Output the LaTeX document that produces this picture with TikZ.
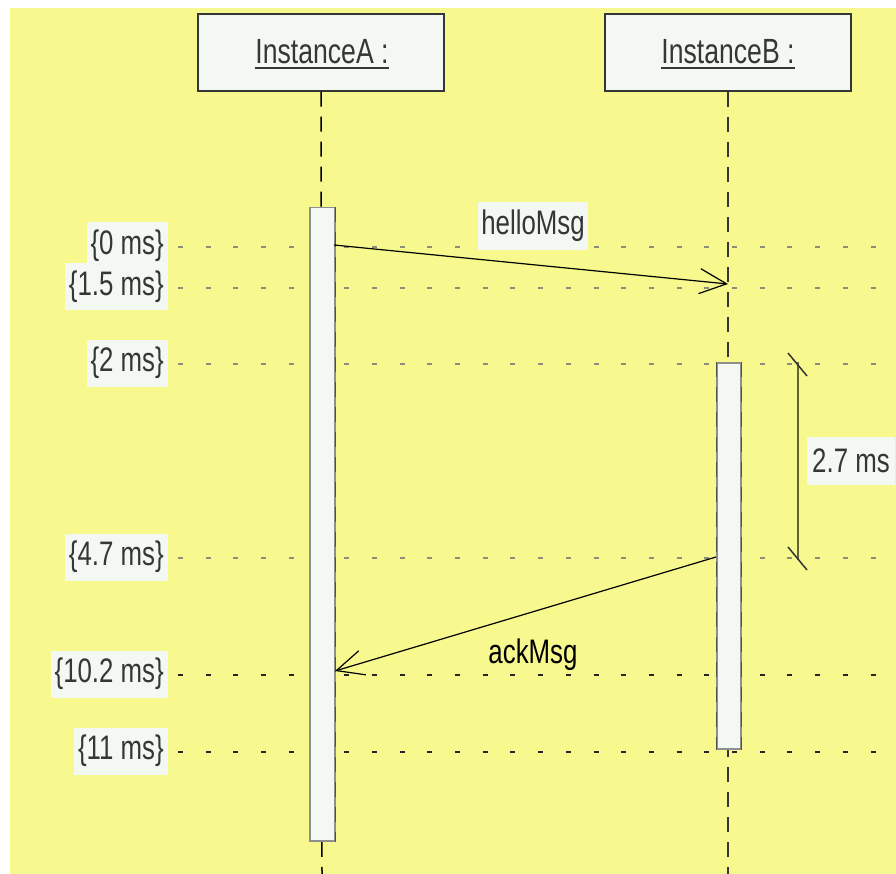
\documentclass[tikz,border=0pt]{standalone}
\usepackage{fontspec}
\setmainfont[FakeStretch=0.76]{Liberation Sans}
\usetikzlibrary{arrows.meta}
\definecolor{bgyellow}{HTML}{F7F98E}
\definecolor{boxfill}{HTML}{F3F8F3}
\definecolor{txtgray}{HTML}{363636}
\definecolor{dotgray}{HTML}{8C8C7A}
\definecolor{bargray}{HTML}{8E8E8E}
\definecolor{edgedark}{HTML}{505050}
\begin{document}
\begin{tikzpicture}[x=1pt,y=-1pt,
  headbox/.style={draw=txtgray, line width=1.5pt, fill=boxfill, minimum width=246pt, minimum height=77pt, inner sep=0pt},
  headtxt/.style={font=\fontsize{35}{40}\selectfont, text=txtgray, anchor=base, inner sep=0pt},
  lifeline/.style={line width=1.5pt, dash pattern=on 15pt off 10pt},
  actbar/.style={draw=bargray, line width=1.5pt, fill=boxfill, inner sep=0pt, anchor=north west},
  timeline/.style={line width=1.5pt, dash pattern=on 5pt off 22.7pt},
  timelabel/.style={fill=boxfill, text=txtgray, font=\fontsize{34}{38}\selectfont, anchor=east, minimum height=47pt, inner xsep=4pt, inner ysep=0pt},
  msg/.style={line width=1.2pt, -{Straight Barb[length=27pt,width=25pt,line width=1.2pt]}},
  msgtxt/.style={font=\fontsize{34}{38}\selectfont, inner sep=0pt},
  bracket/.style={line width=1.5pt, draw=black!60!bgyellow}
]
\useasboundingbox (0,0) rectangle (896,874);
\fill[white] (0,0) rectangle (896,874);
\fill[bgyellow] (10,8) rectangle (896,874);

% time grid lines
\coordinate (t0s) at (178,247);  \coordinate (t0e) at (896,247);
\coordinate (t1s) at (178,288);  \coordinate (t1e) at (896,288);
\coordinate (t2s) at (178,364);  \coordinate (t2e) at (896,364);
\coordinate (t3s) at (178,558);  \coordinate (t3e) at (896,558);
\coordinate (t4s) at (178,675);  \coordinate (t4e) at (896,675);
\coordinate (t5s) at (178,752);  \coordinate (t5e) at (896,752);
\draw[timeline, dotgray] (t0s) -- (t0e);
\draw[timeline, dotgray] (t1s) -- (t1e);
\draw[timeline, dotgray] (t2s) -- (t2e);
\draw[timeline, dotgray] (t3s) -- (t3e);
\draw[timeline, black!85] (t4s) -- (t4e);
\draw[timeline, black!85] (t5s) -- (t5e);

% heads
\node[headbox] (A) at (321,52.5) {};
\node[headbox] (B) at (728,52.5) {};
\node[headtxt] (At) at (322,64) {InstanceA :};
\node[headtxt] (Bt) at (728,64) {InstanceB :};
\draw[txtgray, line width=2pt] ([yshift=-4pt]At.base west) -- ([yshift=-4pt]At.base east);
\draw[txtgray, line width=2pt] ([yshift=-4pt]Bt.base west) -- ([yshift=-4pt]Bt.base east);

% lifelines
\coordinate (Aend) at (322,874);
\coordinate (Bend) at (728,874);
\draw[lifeline, black] (A.south) -- (Aend);
\draw[lifeline, txtgray] (B.south) -- (Bend);

% activation bars
\node[actbar, minimum width=25pt, minimum height=633pt] (barA) at (309,207) {};
\node[actbar, minimum width=24pt, minimum height=386pt] (barB) at (716,362) {};
\draw[lifeline, edgedark, line width=1pt] (barA.north east) -- (barA.south east);
\draw[lifeline, edgedark, line width=1pt] (barB.north west) -- (barB.south west);
\draw[lifeline, edgedark, line width=1pt] (barB.north east) -- (barB.south east);

% time labels
\node[timelabel] (l0) at (168,246) {\{0 ms\}};
\node[timelabel] (l1) at (168,287) {\{1.5 ms\}};
\node[timelabel] (l2) at (168,363) {\{2 ms\}};
\node[timelabel] (l3) at (168,557) {\{4.7 ms\}};
\node[timelabel] (l4) at (168,674) {\{10.2 ms\}};
\node[timelabel] (l5) at (168,751) {\{11 ms\}};

% messages
\coordinate (h1) at (334,245);
\coordinate (h2) at (728,284);
\coordinate (a1) at (716,557);
\coordinate (a2) at (335,671);
\node[msgtxt, fill=boxfill, text=txtgray, minimum width=110pt, minimum height=48pt] (hl) at (533,226) {helloMsg};
\draw[msg] (h1) -- (h2);
\draw[msg] (a1) -- (a2);
\node[msgtxt, text=black] (al) at (533,655) {ackMsg};

% duration constraint
\coordinate (b1) at (798,362);
\coordinate (b2) at (798,560);
\coordinate (k1a) at (788,353); \coordinate (k1b) at (807,376);
\coordinate (k2a) at (788,547); \coordinate (k2b) at (807,570);
\draw[bracket] (b1) -- (b2);
\draw[line width=1.5pt, black!80] (k1a) -- (k1b);
\draw[line width=1.5pt, black!80] (k2a) -- (k2b);
\node[msgtxt, fill=boxfill, text=txtgray, minimum width=88pt, minimum height=48pt] (dl) at (851,461) {2.7 ms};
\end{tikzpicture}
\end{document}
